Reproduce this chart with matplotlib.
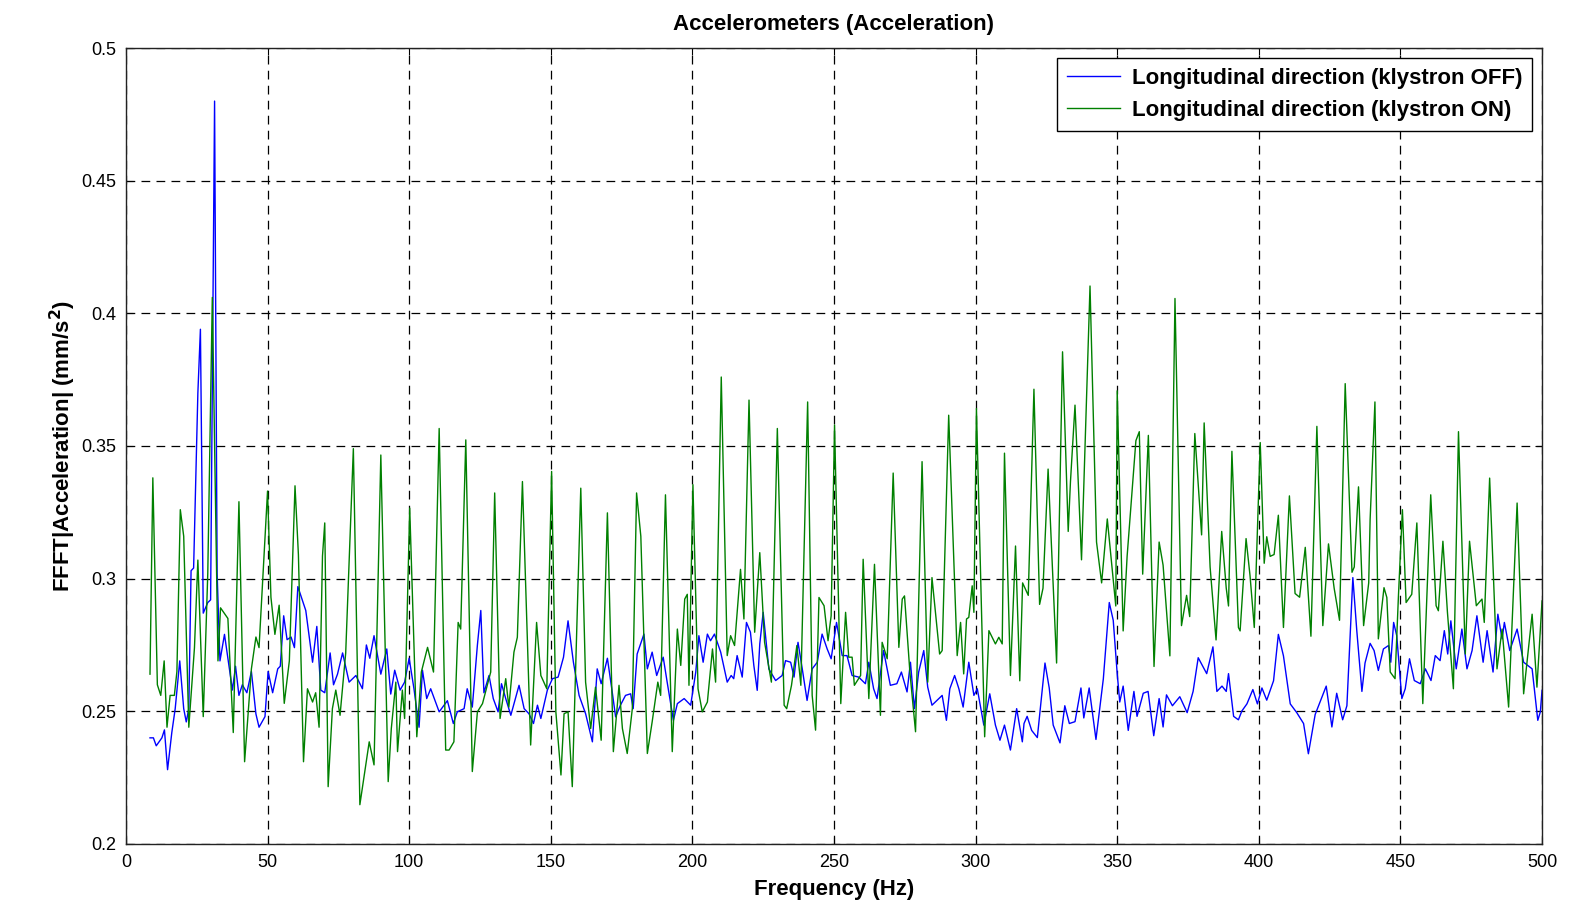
import matplotlib
matplotlib.use('Agg')
import matplotlib.pyplot as plt

# values (Hz, mm/s^2)
freq_off = [8.5, 9.7, 10.7, 12.7, 13.6, 14.7, 16.2, 17.4, 19.0, 20.4, 21.3, 22.2, 23.0, 23.9, 25.4, 26.3, 27.3, 28.9, 29.9, 31.3,
            32.2, 33.2, 34.8, 36.4, 37.6, 38.7, 39.9, 41.1, 42.7, 44.3, 45.9, 47.0, 49.1, 50.2, 51.8, 53.6, 54.5, 55.7, 56.9, 58.3,
            59.5, 60.7, 63.5, 65.9, 67.4, 68.8, 70.2, 72.1, 73.3, 74.7, 76.5, 78.8, 81.2, 83.5, 84.9, 86.1, 87.6, 90.0, 92.1, 93.5,
            94.9, 96.8, 98.4, 100.0, 101.7, 103.5, 104.7, 106.2, 107.6, 110.6, 113.5, 115.6, 117.0, 119.4, 120.5, 122.3, 124.1, 125.3, 126.4, 128.2,
            129.7, 131.4, 132.6, 134.1, 135.9, 138.8, 140.6, 142.3, 143.9, 145.3, 146.5, 148.8, 150.6, 152.6, 154.5, 156.1, 158.0, 160.0, 162.3, 164.7,
            166.4, 167.8, 170.0, 171.7, 172.9, 174.6, 176.4, 178.2, 179.1, 180.5, 182.9, 184.1, 185.8, 187.4, 189.7, 191.1, 193.3, 194.7, 197.1, 199.4,
            201.2, 202.3, 203.8, 205.3, 206.4, 207.8, 210.0, 212.3, 213.7, 214.6, 215.8, 217.6, 219.1, 220.5, 221.7, 222.9, 223.8, 225.0, 227.0, 229.4,
            231.7, 232.9, 234.7, 235.9, 237.3, 238.8, 240.5, 242.3, 244.1, 245.8, 247.6, 249.0, 250.9, 252.9, 254.6, 256.4, 258.7, 261.1, 262.3, 264.0,
            265.2, 267.5, 269.9, 272.2, 273.8, 275.8, 277.0, 278.4, 279.9, 281.7, 283.1, 284.6, 287.0, 288.2, 289.7, 290.9, 292.6, 294.1, 295.6, 297.6,
            299.4, 300.6, 302.9, 305.0, 307.0, 308.6, 310.2, 312.3, 314.5, 316.5, 317.1, 318.2, 319.8, 321.8, 324.5, 326.0, 327.4, 329.8, 331.5, 333.1,
            335.1, 337.2, 338.2, 340.1, 342.5, 345.1, 347.2, 348.6, 350.0, 350.9, 352.1, 353.9, 355.9, 357.0, 359.2, 360.9, 362.9, 364.8, 366.2, 367.4,
            369.5, 372.1, 374.7, 376.8, 378.6, 381.6, 383.8, 385.2, 387.0, 388.5, 389.3, 391.1, 392.8, 394.0, 395.8, 397.9, 399.5, 401.1, 402.8, 405.2,
            406.9, 408.7, 411.1, 413.4, 415.8, 417.5, 419.9, 421.6, 423.8, 425.8, 427.5, 429.6, 431.1, 433.2, 434.6, 436.4, 437.5, 439.3, 440.7, 442.2,
            444.0, 445.8, 446.6, 447.6, 448.7, 450.5, 451.7, 453.2, 454.9, 457.0, 458.8, 460.8, 462.3, 464.0, 465.5, 466.7, 467.8, 469.7, 471.7, 473.5,
            475.3, 477.0, 479.2, 480.6, 482.7, 484.4, 485.9, 486.7, 488.6, 491.2, 493.5, 496.5, 498.5, 499.4, 500.0]
acc_off = [0.240, 0.240, 0.237, 0.240, 0.243, 0.228, 0.242, 0.251, 0.269, 0.251, 0.246, 0.251, 0.303, 0.304, 0.370, 0.394, 0.287, 0.291, 0.292, 0.480,
           0.302, 0.269, 0.279, 0.267, 0.258, 0.267, 0.256, 0.260, 0.257, 0.265, 0.249, 0.244, 0.248, 0.265, 0.257, 0.266, 0.267, 0.286, 0.277, 0.278,
           0.274, 0.297, 0.288, 0.2685, 0.282, 0.258, 0.257, 0.272, 0.260, 0.264, 0.272, 0.261, 0.2635, 0.2585, 0.275, 0.270, 0.2785, 0.264, 0.2735, 0.2565,
           0.2655, 0.258, 0.261, 0.270, 0.2585, 0.244, 0.2655, 0.2548, 0.2585, 0.2498, 0.254, 0.2454, 0.2498, 0.251, 0.2585, 0.2516, 0.275, 0.288, 0.257, 0.2635,
           0.2548, 0.2498, 0.2604, 0.2548, 0.2485, 0.2598, 0.251, 0.2491, 0.2454, 0.2523, 0.2473, 0.258, 0.2623, 0.2629, 0.2704, 0.2841, 0.2685, 0.256, 0.2491, 0.2385,
           0.266, 0.2604, 0.270, 0.2573, 0.2479, 0.2523, 0.256, 0.2566, 0.251, 0.2716, 0.2791, 0.266, 0.2723, 0.2635, 0.2704, 0.261, 0.2466, 0.2529, 0.2548, 0.2523,
           0.2648, 0.2785, 0.2685, 0.2791, 0.2766, 0.2791, 0.2723, 0.261, 0.2635, 0.2623, 0.271, 0.2629, 0.2835, 0.2798, 0.2673, 0.2579, 0.2754, 0.2873, 0.266, 0.2616,
           0.2635, 0.2691, 0.2685, 0.2629, 0.276, 0.266, 0.2541, 0.266, 0.2685, 0.2791, 0.2735, 0.2698, 0.2835, 0.271, 0.271, 0.2635, 0.2629, 0.2604, 0.2685, 0.2585,
           0.2548, 0.2729, 0.2598, 0.2604, 0.2648, 0.2573, 0.2685, 0.251, 0.2648, 0.2729, 0.2591, 0.2523, 0.2548, 0.256, 0.2466, 0.2585, 0.2635, 0.2585, 0.2516, 0.2685,
           0.256, 0.2585, 0.2448, 0.2566, 0.2448, 0.2391, 0.2448, 0.2354, 0.251, 0.2385, 0.2454, 0.2481, 0.2428, 0.2401, 0.2682, 0.2588, 0.2448, 0.2381, 0.2521, 0.2454,
           0.2461, 0.2588, 0.2475, 0.2588, 0.2394, 0.2622, 0.291, 0.2843, 0.2642, 0.2535, 0.2595, 0.2428, 0.2575, 0.2481, 0.2568, 0.2575, 0.2408, 0.2548, 0.2441, 0.2562,
           0.2521, 0.2555, 0.2495, 0.2575, 0.2702, 0.2642, 0.2743, 0.2575, 0.2595, 0.2575, 0.2642, 0.2481, 0.2468, 0.2501, 0.2528, 0.2582, 0.2528, 0.2588, 0.2542, 0.2615,
           0.279, 0.2709, 0.2528, 0.2495, 0.2454, 0.234, 0.2488, 0.2535, 0.2595, 0.2441, 0.2568, 0.2468, 0.2521, 0.3004, 0.2803, 0.2575, 0.2682, 0.2756, 0.2729, 0.2654,
           0.2735, 0.2748, 0.2685, 0.2835, 0.2785, 0.2548, 0.2585, 0.2698, 0.2616, 0.2604, 0.266, 0.2616, 0.271, 0.2691, 0.2804, 0.2716, 0.2841, 0.266, 0.281, 0.266,
           0.2729, 0.286, 0.2685, 0.2804, 0.2648, 0.2866, 0.2773, 0.2835, 0.2729, 0.281, 0.2685, 0.266, 0.2466, 0.2498, 0.2579]

freq_on = [8.5, 9.5, 11.1, 12.3, 13.5, 14.5, 15.6, 17.1, 18.0, 19.2, 20.4, 22.2, 24.2, 25.4, 27.3, 28.9, 30.5, 32.5, 33.4, 36.0,
           37.9, 39.9, 41.9, 44.3, 45.9, 47.0, 50.0, 51.2, 52.6, 54.1, 55.9, 57.7, 59.7, 60.9, 62.7, 64.1, 65.9, 67.0, 68.2, 69.4,
           70.2, 71.4, 72.9, 74.1, 75.6, 77.6, 80.3, 82.6, 84.7, 85.9, 87.6, 90.0, 92.6, 93.7, 95.3, 95.9, 97.6, 98.4, 100.2, 102.7,
           104.3, 106.5, 108.6, 110.6, 112.9, 114.1, 115.8, 117.3, 118.2, 120.0, 122.3, 124.1, 125.9, 128.8, 130.2, 132.1, 134.1, 135.2, 137.0, 138.2,
           140.0, 142.9, 145.0, 146.5, 148.6, 150.3, 151.8, 153.6, 154.7, 156.1, 157.6, 160.6, 162.3, 164.1, 165.8, 167.8, 170.0, 172.1, 174.1, 175.3,
           177.0, 178.8, 180.3, 181.8, 184.1, 185.8, 187.8, 188.8, 190.5, 192.9, 194.7, 195.9, 197.3, 198.2, 198.8, 200.2, 202.0, 203.5, 205.3, 207.1,
           208.2, 210.2, 212.3, 213.5, 214.9, 217.0, 218.2, 220.0, 222.0, 223.8, 225.5, 227.9, 230.0, 232.4, 233.3, 235.0, 236.9, 238.3, 240.7, 242.3,
           243.5, 244.7, 246.5, 247.9, 249.0, 250.2, 252.4, 254.1, 255.2, 256.4, 257.2, 259.4, 260.3, 262.3, 264.3, 266.4, 267.0, 268.8, 270.9, 272.9,
           274.1, 274.9, 276.8, 278.8, 281.1, 283.1, 284.6, 287.3, 288.2, 290.5, 293.5, 294.7, 295.8, 296.8, 297.6, 298.8, 299.4, 300.3, 303.2, 304.7,
           307.0, 308.2, 309.4, 310.2, 312.3, 314.1, 315.6, 316.6, 318.6, 320.6, 322.6, 323.8, 325.6, 328.6, 330.7, 332.7, 333.5, 335.1, 337.4, 340.4,
           342.7, 344.5, 346.5, 349.5, 350.0, 352.1, 353.5, 356.6, 357.8, 359.0, 361.0, 363.0, 364.8, 366.2, 368.6, 370.4, 372.7, 374.5, 375.6, 377.4,
           379.8, 380.7, 382.8, 384.9, 386.9, 388.5, 389.3, 390.5, 392.8, 393.4, 395.5, 396.9, 398.4, 400.5, 401.9, 402.8, 404.0, 405.4, 406.9, 408.7,
           410.8, 412.8, 414.4, 416.4, 418.4, 420.5, 422.6, 424.6, 426.6, 428.5, 430.5, 432.9, 433.7, 435.2, 437.0, 438.8, 439.3, 441.0, 442.2, 444.2,
           445.2, 446.4, 448.1, 449.3, 450.7, 452.0, 454.0, 455.8, 457.9, 460.7, 462.6, 463.4, 465.0, 466.6, 468.7, 470.5, 472.9, 474.4, 476.8, 478.8,
           479.6, 481.5, 484.1, 485.9, 488.2, 491.2, 493.5, 496.5, 498.2, 500.0]
acc_on = [0.264, 0.338, 0.260, 0.256, 0.269, 0.244, 0.256, 0.256, 0.265, 0.326, 0.316, 0.244, 0.274, 0.307, 0.248, 0.302, 0.406, 0.269, 0.289, 0.285,
          0.242, 0.329, 0.231, 0.266, 0.278, 0.274, 0.333, 0.293, 0.279, 0.290, 0.253, 0.269, 0.335, 0.309, 0.231, 0.2585, 0.2535, 0.257, 0.244, 0.3085,
          0.321, 0.2216, 0.251, 0.258, 0.2485, 0.272, 0.349, 0.2148, 0.2298, 0.2385, 0.2298, 0.3466, 0.2235, 0.2435, 0.261, 0.2348, 0.258, 0.2473, 0.3266, 0.2404,
          0.2648, 0.2741, 0.2648, 0.3566, 0.2354, 0.2354, 0.2385, 0.2835, 0.281, 0.3523, 0.2273, 0.2498, 0.2529, 0.2648, 0.3323, 0.2473, 0.2623, 0.2516, 0.2723, 0.2779,
          0.3366, 0.2373, 0.2835, 0.2635, 0.2585, 0.3404, 0.2498, 0.226, 0.2491, 0.2498, 0.2216, 0.3341, 0.261, 0.2435, 0.2591, 0.2391, 0.3248, 0.2348, 0.2598, 0.2435,
          0.2341, 0.251, 0.3323, 0.316, 0.2341, 0.246, 0.261, 0.256, 0.3316, 0.2348, 0.281, 0.2673, 0.2923, 0.2941, 0.2598, 0.3354, 0.2585, 0.2498, 0.2535, 0.2735,
          0.261, 0.376, 0.271, 0.2785, 0.2748, 0.3035, 0.2848, 0.3673, 0.2798, 0.3098, 0.276, 0.261, 0.3566, 0.2523, 0.251, 0.2598, 0.2748, 0.2598, 0.3666, 0.256,
          0.2429, 0.2929, 0.2898, 0.2766, 0.286, 0.3579, 0.2529, 0.2873, 0.2704, 0.2704, 0.2598, 0.2635, 0.3073, 0.2548, 0.3054, 0.2485, 0.276, 0.2698, 0.3398, 0.2741,
          0.2923, 0.2935, 0.2648, 0.2423, 0.3441, 0.261, 0.3004, 0.2716, 0.2729, 0.3616, 0.271, 0.2835, 0.2641, 0.2848, 0.2854, 0.2973, 0.2873, 0.3641, 0.2404, 0.2804,
          0.2754, 0.2779, 0.2754, 0.3473, 0.2635, 0.3123, 0.2615, 0.2984, 0.2937, 0.3714, 0.2903, 0.2964, 0.3413, 0.2682, 0.3855, 0.3178, 0.3366, 0.3654, 0.3071, 0.4103,
          0.3138, 0.2984, 0.3225, 0.2897, 0.3708, 0.2803, 0.3084, 0.352, 0.3554, 0.3017, 0.354, 0.2669, 0.3138, 0.3051, 0.2709, 0.4056, 0.2823, 0.2937, 0.2857, 0.3547,
          0.3165, 0.3587, 0.3044, 0.2769, 0.3178, 0.2964, 0.2897, 0.348, 0.2816, 0.2803, 0.3151, 0.3011, 0.2816, 0.3513, 0.3058, 0.3158, 0.3084, 0.3091, 0.3239, 0.2816,
          0.3312, 0.2944, 0.293, 0.3118, 0.2783, 0.3574, 0.2823, 0.3131, 0.2964, 0.2843, 0.3735, 0.3024, 0.3044, 0.3346, 0.2823, 0.2984, 0.3223, 0.3666, 0.2773, 0.2966,
          0.2929, 0.2648, 0.2623, 0.2935, 0.326, 0.291, 0.2941, 0.321, 0.2529, 0.3316, 0.2898, 0.2879, 0.3141, 0.2873, 0.2585, 0.3554, 0.2716, 0.3141, 0.2898, 0.2923,
          0.2835, 0.3379, 0.266, 0.281, 0.2516, 0.3285, 0.2566, 0.2866, 0.2591, 0.2916]

x_ticks = [0, 50, 100, 150, 200, 250, 300, 350, 400, 450, 500]
y_ticks = [0.2, 0.25, 0.3, 0.35, 0.4, 0.45, 0.5]
y_tick_labels = ['0.2', '0.25', '0.3', '0.35', '0.4', '0.45', '0.5']
series_labels = ['Longitudinal direction (klystron OFF)', 'Longitudinal direction (klystron ON)']

plt.rcParams['font.family'] = ['Liberation Sans', 'DejaVu Sans']


def main():
    fig = plt.figure(figsize=(15.94, 9.01), dpi=100)
    ax = fig.add_axes([0.079, 0.0633, 0.8884, 0.8834])

    ax.plot(freq_off, acc_off, color='#0000ff', lw=1.0, label=series_labels[0])
    ax.plot(freq_on, acc_on, color='#008000', lw=1.0, label=series_labels[1])

    ax.set_xlim(0, 500)
    ax.set_ylim(0.2, 0.5)
    ax.set_xticks(x_ticks)
    ax.set_yticks(y_ticks)
    ax.set_yticklabels(y_tick_labels)
    ax.tick_params(direction='in', length=5, width=0.8, labelsize=13, top=True, right=True, pad=7)
    ax.grid(True, color='k', lw=0.9, linestyle=(0, (7, 5)))

    for s in ax.spines.values():
        s.set_linewidth(1.0)
        s.set_color('#222222')

    ax.set_title('Accelerometers (Acceleration)', fontsize=16, fontweight='bold', pad=13)
    ax.set_xlabel('Frequency (Hz)', fontsize=16, fontweight='bold', labelpad=6)
    ax.set_ylabel('FFFT|Acceleration| (mm/s$^{\\mathbf{2}}$)', fontsize=16, fontweight='bold', labelpad=2)

    leg = ax.legend(loc='upper right', prop={'weight': 'bold', 'size': 16},
                    fancybox=False, edgecolor='k', framealpha=1, borderpad=0.45,
                    handlelength=2.4, handletextpad=0.5, labelspacing=0.5, borderaxespad=0.45)
    leg.get_frame().set_linewidth(1.0)

    fig.savefig('out.png', dpi=100)
    plt.close(fig)


if __name__ == "__main__":
    main()
